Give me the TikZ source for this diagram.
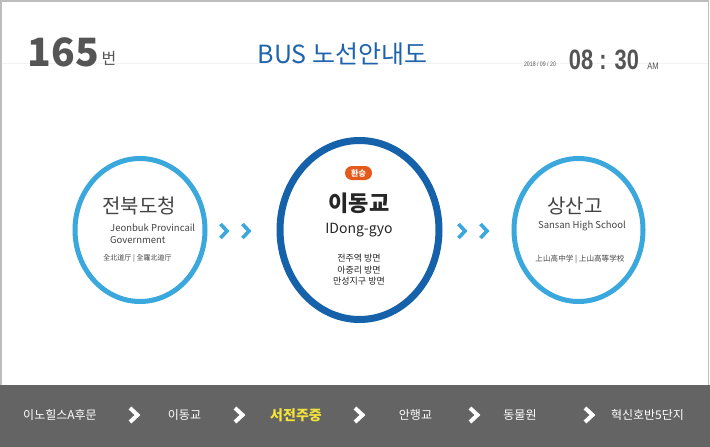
\documentclass[tikz,border=0pt]{standalone}
\usepackage{fontspec}
\setmainfont{Noto Sans CJK KR}
\newfontfamily\kr{Noto Sans CJK KR}
\newfontfamily\arial{Liberation Sans}
\definecolor{cblue}{HTML}{3AA8DC}
\definecolor{dblue}{HTML}{1662AA}
\definecolor{titleblue}{HTML}{1E63AD}
\definecolor{txt}{HTML}{444444}
\definecolor{hdr}{HTML}{555555}
\definecolor{bar}{HTML}{646464}
\definecolor{border}{HTML}{BDBDBD}
\definecolor{badge}{HTML}{E45A1C}
\definecolor{hl}{HTML}{F2E43A}
\tikzset{
  chevb/.pic={\draw[line width=3.6pt, color=cblue] (-3.5,-7) -- (3,0) -- (-3.5,7);},
  chevw/.pic={\draw[line width=4pt, color=white] (-4,-7) -- (3.5,0) -- (-4,7);},
  stoptxt/.style={text=white, font=\kr\fontsize{12}{14}\selectfont, inner sep=0pt},
  ring/.style={line width=5pt, color=cblue},
  small/.style={text=txt, font=\kr\fontsize{7}{8}\selectfont, inner sep=0pt},
}
\begin{document}
\begin{tikzpicture}[x=1pt,y=-1pt]
\useasboundingbox (0,0) rectangle (710,447);
\fill[white] (0,0) rectangle (710,447);
% frame
\draw[border, line width=1.5pt] (0.75,385) -- (0.75,0.75) -- (708.5,0.75) -- (708.5,385);
\draw[black!5, line width=0.8pt] (1.5,63) -- (707.5,63);
% header
\node[text=hdr, font=\kr\bfseries\fontsize{39}{42}\selectfont, inner sep=0pt] (num) at (63.5,52.5) {165};
\node[text=hdr, font=\kr\fontsize{16}{18}\selectfont, inner sep=0pt] (beon) at (109,58) {번};
\node[text=titleblue, font=\kr\fontsize{25}{28}\selectfont, inner sep=0pt] (title) at (342.5,54) {BUS 노선안내도};
\node[text=hdr, font=\arial\fontsize{6.5}{8}\selectfont, inner sep=0pt] (date) at (540,64) {\scalebox{0.8}[1]{2018 / 09 / 20}};
\node[text=hdr, font=\arial\bfseries\fontsize{28}{30}\selectfont, inner sep=0pt] (time) at (604,60) {\scalebox{0.78}[1]{08 : 30}};
\node[text=hdr, font=\arial\fontsize{9.5}{10}\selectfont, inner sep=0pt] (am) at (653,66) {\scalebox{0.8}[1]{AM}};
% circles
\draw[ring] (140,230) ellipse [x radius=65, y radius=71.5];
\draw[ring] (578.5,230) ellipse [x radius=64.5, y radius=71.5];
\draw[line width=7pt, color=dblue] (359.5,230) ellipse [x radius=79.5, y radius=89.5];
% left stop
\node[text=txt, font=\kr\fontsize{20}{22}\selectfont, inner sep=0pt] (l1) at (139,206) {전북도청};
\node[text=txt, font=\kr\fontsize{9.5}{12}\selectfont, anchor=north west, align=left, inner sep=0pt] (l2) at (110,224) {Jeonbuk Provincail\\Government};
\node[small] (l3) at (137.5,259) {全北道厅 | 全羅北道厅};
% middle stop
\node[fill=badge, text=white, rounded corners=7pt, minimum width=27pt, minimum height=14pt, inner sep=0pt, font=\kr\bfseries\fontsize{8}{9}\selectfont] (m0) at (358.5,173) {환승};
\node[text=black!85, font=\kr\bfseries\fontsize{22}{24}\selectfont, inner sep=0pt] (m1) at (359,203) {이동교};
\node[text=black!85, font=\kr\fontsize{14}{16}\selectfont, inner sep=0pt] (m2) at (359,230) {IDong-gyo};
\node[text=black!85, font=\kr\fontsize{9}{11.5}\selectfont, align=center, inner sep=0pt] (m3) at (359,270) {전주역 방면\\아중리 방면\\만성지구 방면};
% right stop
\node[text=txt, font=\kr\fontsize{20}{22}\selectfont, inner sep=0pt] (r1) at (575,206) {상산고};
\node[text=txt, font=\kr\fontsize{9.5}{12}\selectfont, inner sep=0pt] (r2) at (582,226) {Sansan High School};
\node[small, font=\kr\fontsize{7.6}{9}\selectfont] (r3) at (580,259) {上山高中学 | 上山高等学校};
% blue chevrons
\pic at (224,231) {chevb};
\pic at (246,231) {chevb};
\pic at (462,231) {chevb};
\pic at (484,231) {chevb};
% bottom bar
\fill[bar] (0,385) rectangle (710,447);
\node[stoptxt] (s1) at (60,415) {이노힐스A후문};
\node[stoptxt] (s2) at (184.5,415) {이동교};
\node[stoptxt, text=hl, font=\kr\bfseries\fontsize{14}{16}\selectfont] (s3) at (296,415) {서전주중};
\node[stoptxt] (s4) at (415.5,415) {안행교};
\node[stoptxt] (s5) at (520,415) {동물원};
\node[stoptxt] (s6) at (647.5,415) {혁신호반5단지};
\pic at (134,415) {chevw};
\pic at (239,415) {chevw};
\pic at (359,415) {chevw};
\pic at (474,415) {chevw};
\pic at (589,415) {chevw};
\end{tikzpicture}
\end{document}
